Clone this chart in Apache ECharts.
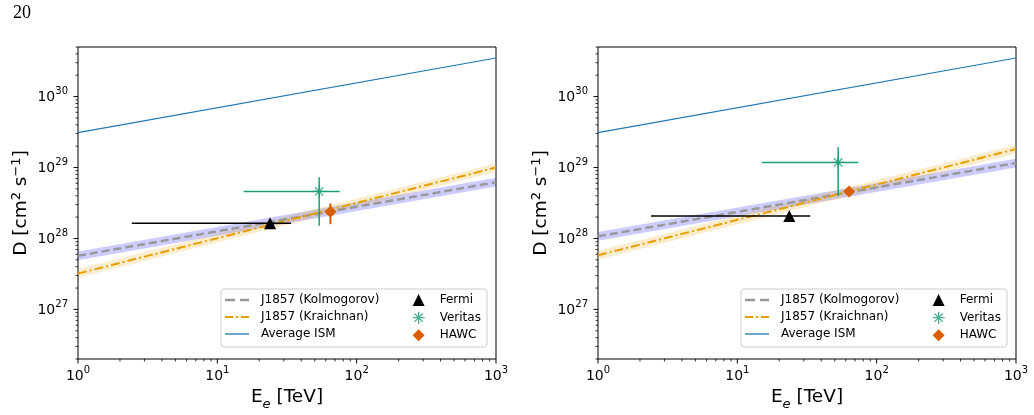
<!DOCTYPE html>
<html><head><meta charset="utf-8">
<script src="https://cdn.jsdelivr.net/npm/echarts@6/dist/echarts.min.js"></script>
<style>html,body{margin:0;padding:0;background:#fff}#c{width:1034px;height:415px}</style>
</head><body><div id="c"></div>
<script>
// ---------- data ----------
const pageNumber = '20';
const xTickExps = [0, 1, 2, 3];
const yTickExps = [27, 28, 29, 30];
const xRange = [1, 1000];
const yRange = [2e26, 5e30];
const lineNames = ['J1857 (Kolmogorov)', 'J1857 (Kraichnan)', 'Average ISM'];
const pointNames = ['Fermi', 'Veritas', 'HAWC'];

const energyEnds = [1, 1000];
// left panel
const ismL = [3.1e29, 3.5e30];
const kolL = [5.7e27, 6.2e28];
const kolLoL = [4.95e27, 5.4e28];
const kolHiL = [6.55e27, 7.15e28];
const kraL = [3.2e27, 1.0e29];
const kraLoL = [2.8e27, 8.7e28];
const kraHiL = [3.7e27, 1.15e29];
const ptXL = [23.9, 53.8, 64.8];
const ptYL = [1.64e28, 4.6e28, 2.38e28];
const xErrLoL = [2.43, 15.4, null];
const xErrHiL = [33.8, 75.6, null];
const yErrLoL = [null, 1.51e28, 1.59e28];
const yErrHiL = [null, 7.27e28, 3.12e28];
// right panel
const ismR = [3.1e29, 3.5e30];
const kolR = [1.07e28, 1.16e29];
const kolLoR = [9.3e27, 1.0e29];
const kolHiR = [1.23e28, 1.33e29];
const kraR = [5.8e27, 1.82e29];
const kraLoR = [5.0e27, 1.58e29];
const kraHiR = [6.7e27, 2.1e29];
const ptXR = [23.6, 52.9, 63.4];
const ptYR = [2.08e28, 1.18e29, 4.6e28];
const xErrLoR = [2.4, 15.0, null];
const xErrHiR = [33.4, 73.9, null];
const yErrLoR = [null, 4.0e28, null];
const yErrHiR = [null, 1.93e29, null];

// ---------- style ----------
const FONT = 'DejaVu Sans';
const COL = {
  ism: '#1f77b4', kol: '#999999', kra: '#e69f00',
  kolBand: 'rgba(0,0,255,0.2)', kraBand: 'rgba(230,159,0,0.2)',
  fermi: '#000000', veritas: '#1b9e77', hawc: '#d95f02'
};
const ptColors = [COL.fermi, COL.veritas, COL.hawc];
const ASTER = 'path://M5,0L5,10M0,5L10,5M1.5,1.5L8.5,8.5M1.5,8.5L8.5,1.5';
const ptSymbols = ['triangle', ASTER, 'diamond'];
const ptSizes = [12, 12, 12];
const lineIcons = [
  'path://M0,0h10v2.5h-10zM15,0h9v2.5h-9z',
  'path://M0,0h8v2h-8zM11,0h2v2h-2zM16,0h8v2h-8z',
  'path://M0,0h24v1.3h-24z'
];

const panels = [
  {ism: ismL, kol: kolL, kolLo: kolLoL, kolHi: kolHiL, kra: kraL, kraLo: kraLoL, kraHi: kraHiL,
   px: ptXL, py: ptYL, xlo: xErrLoL, xhi: xErrHiL, ylo: yErrLoL, yhi: yErrHiL},
  {ism: ismR, kol: kolR, kolLo: kolLoR, kolHi: kolHiR, kra: kraR, kraLo: kraLoR, kraHi: kraHiR,
   px: ptXR, py: ptYR, xlo: xErrLoR, xhi: xErrHiR, ylo: yErrLoR, yhi: yErrHiR}
];
const gridLefts = [78, 598];
const GRID_TOP = 47, GRID_W = 418, GRID_H = 312;

function expOf(v) {
  const l = Math.log10(v), e = Math.round(l);
  return Math.abs(l - e) < 1e-6 ? e : null;
}
const tickRich = {
  b: {fontSize: 14, fontFamily: FONT, color: '#000', verticalAlign: 'bottom', lineHeight: 15},
  s: {fontSize: 10, fontFamily: FONT, color: '#000', verticalAlign: 'bottom', lineHeight: 10, padding: [0, 0, 8, 0]}
};
function xFmt(v) { const e = expOf(v); return (e === null || xTickExps.indexOf(e) < 0) ? '' : '{b|10}{s|' + e + '}'; }
function yFmt(v) { const e = expOf(v); return (e === null || yTickExps.indexOf(e) < 0) ? '' : '{b|10}{s|' + e + '}'; }

// tick marks (major + minor) drawn through the axes
const tickData = [];
for (let e = 0; e < 3; e++) for (let m = 1; m <= 9; m++) tickData.push([m * Math.pow(10, e), yRange[0], 0, m === 1 ? 1 : 0]);
tickData.push([1000, yRange[0], 0, 1]);
for (let e = 26; e <= 30; e++) for (let m = 1; m <= 9; m++) {
  const v = m * Math.pow(10, e);
  if (v >= yRange[0] * 0.999 && v <= yRange[1] * 1.001) tickData.push([xRange[0], v, 1, m === 1 ? 1 : 0]);
}
function tickRender(params, api) {
  const kind = api.value(2), major = api.value(3);
  const p = api.coord([api.value(0), api.value(1)]);
  const len = major ? 4.5 : 2.5;
  const shape = kind === 0 ? {x1: p[0], y1: p[1], x2: p[0], y2: p[1] + len}
                           : {x1: p[0], y1: p[1], x2: p[0] - len, y2: p[1]};
  return {type: 'line', shape: shape, style: {stroke: '#000', lineWidth: major ? 1 : 0.8}};
}

const xAxes = [], yAxes = [], grids = [], series = [], legends = [], graphics = [];
panels.forEach((P, i) => {
  grids.push({left: gridLefts[i], top: GRID_TOP, width: GRID_W, height: GRID_H, show: true,
    borderColor: '#000', borderWidth: 1, backgroundColor: 'transparent', outerBoundsMode: 'none', containLabel: false});
  xAxes.push({type: 'log', logBase: 10, gridIndex: i, min: xRange[0], max: xRange[1],
    axisLine: {show: false}, axisTick: {show: false}, splitLine: {show: false}, minorTick: {show: false},
    axisLabel: {formatter: xFmt, rich: tickRich, margin: 9, showMinLabel: true, showMaxLabel: true, hideOverlap: false},
    name: '{n|E}{sub|e}{n| [TeV]}', nameLocation: 'middle', nameGap: 29,
    nameTextStyle: {rich: {
      n: {fontSize: 18.5, fontFamily: FONT, color: '#000', verticalAlign: 'bottom', lineHeight: 19, padding: [0, 0, 4, 0]},
      sub: {fontSize: 13, fontStyle: 'italic', fontFamily: FONT, color: '#000', verticalAlign: 'bottom', lineHeight: 14}}}
  });
  yAxes.push({type: 'log', logBase: 10, gridIndex: i, min: yRange[0], max: yRange[1],
    axisLine: {show: false}, axisTick: {show: false}, splitLine: {show: false}, minorTick: {show: false},
    axisLabel: {formatter: yFmt, rich: tickRich, margin: 10, hideOverlap: false},
    name: '{n|D [cm}{s|2}{n| s}{s|\u22121}{n|]}', nameLocation: 'middle', nameGap: 47, nameRotate: 90,
    nameTextStyle: {rich: {
      n: {fontSize: 18.5, fontFamily: FONT, color: '#000', verticalAlign: 'bottom', lineHeight: 19},
      s: {fontSize: 13, fontFamily: FONT, color: '#000', verticalAlign: 'bottom', lineHeight: 13, padding: [0, 0, 8, 0]}}}
  });

  // uncertainty bands
  [[P.kolLo, P.kolHi, COL.kolBand], [P.kraLo, P.kraHi, COL.kraBand]].forEach(b => {
    const lo = b[0], hi = b[1], fill = b[2];
    series.push({type: 'custom', xAxisIndex: i, yAxisIndex: i, z: 1, silent: true, clip: false,
      data: [[energyEnds[0], lo[0]]],
      renderItem: (params, api) => {
        const pts = [];
        for (let k = 0; k < energyEnds.length; k++) pts.push(api.coord([energyEnds[k], lo[k]]));
        for (let k = energyEnds.length - 1; k >= 0; k--) pts.push(api.coord([energyEnds[k], hi[k]]));
        return {type: 'polygon', shape: {points: pts}, style: {fill: fill}};
      }});
  });

  const lineDefs = [
    [lineNames[0], P.kol, {color: COL.kol, width: 2.5, type: [8, 4]}],
    [lineNames[1], P.kra, {color: COL.kra, width: 2, type: [9, 3, 2, 3]}],
    [lineNames[2], P.ism, {color: COL.ism, width: 1.2, type: 'solid'}]
  ];
  lineDefs.forEach(d => {
    series.push({type: 'line', name: d[0], xAxisIndex: i, yAxisIndex: i, z: 3, symbol: 'none',
      silent: true, animation: false, lineStyle: d[2], itemStyle: {color: d[2].color},
      data: energyEnds.map((x, k) => [x, d[1][k]])});
  });

  // error bars
  pointNames.forEach((nm, k) => {
    series.push({type: 'custom', xAxisIndex: i, yAxisIndex: i, z: 4, silent: true, clip: false,
      data: [[P.px[k], P.py[k]]],
      renderItem: (params, api) => {
        const children = [];
        const w = k === 2 ? 2 : 1.5;
        if (P.xlo[k] !== null) {
          const a = api.coord([P.xlo[k], P.py[k]]), b = api.coord([P.xhi[k], P.py[k]]);
          children.push({type: 'line', shape: {x1: a[0], y1: a[1], x2: b[0], y2: b[1]}, style: {stroke: ptColors[k], lineWidth: w}});
        }
        if (P.ylo[k] !== null) {
          const a = api.coord([P.px[k], P.ylo[k]]), b = api.coord([P.px[k], P.yhi[k]]);
          children.push({type: 'line', shape: {x1: a[0], y1: a[1], x2: b[0], y2: b[1]}, style: {stroke: ptColors[k], lineWidth: w}});
        }
        return {type: 'group', children: children};
      }});
  });
  // markers
  pointNames.forEach((nm, k) => {
    const isAst = k === 1;
    series.push({type: 'scatter', name: nm, xAxisIndex: i, yAxisIndex: i, z: 5, silent: true,
      symbol: ptSymbols[k], symbolSize: ptSizes[k], symbolKeepAspect: true,
      itemStyle: isAst ? {color: 'rgba(0,0,0,0)', borderColor: ptColors[k], borderWidth: 1.3}
                       : {color: ptColors[k], opacity: 1},
      data: [[P.px[k], P.py[k]]]});
  });
  // ticks
  series.push({type: 'custom', xAxisIndex: i, yAxisIndex: i, z: 6, silent: true, clip: false,
    data: tickData, renderItem: tickRender});

  // legend frame + legends
  const off = i === 0 ? 0 : 520;
  graphics.push({type: 'rect', z: 3, shape: {x: 221 + off, y: 289, width: 266, height: 58, r: 3},
    style: {fill: 'rgba(255,255,255,0.8)', stroke: '#cccccc', lineWidth: 1}});
  legends.push({orient: 'vertical', left: 225 + off, top: 294, padding: 0, itemGap: 5,
    itemWidth: 24, itemHeight: 12, selectedMode: false, symbolKeepAspect: true,
    data: lineNames.map((nm, k) => ({name: nm, icon: lineIcons[k],
      itemStyle: {color: [COL.kol, COL.kra, COL.ism][k], borderWidth: 0}})),
    textStyle: {fontSize: 12, lineHeight: 12, fontFamily: FONT, color: '#000', padding: [0, 0, 0, 7]}});
  legends.push({orient: 'vertical', left: 412 + off, top: 294, padding: 0, itemGap: 5,
    itemWidth: 12, itemHeight: 12, selectedMode: false,
    data: [
      {name: pointNames[0], itemStyle: {color: COL.fermi}},
      {name: pointNames[1], icon: ASTER, itemStyle: {color: 'rgba(0,0,0,0)', borderColor: COL.veritas, borderWidth: 1.3}},
      {name: pointNames[2], itemStyle: {color: COL.hawc}}
    ],
    textStyle: {fontSize: 12, lineHeight: 12, fontFamily: FONT, color: '#000', padding: [0, 0, 0, 10]}});
});

graphics.push({type: 'text', left: 13, top: 4, z: 10,
  style: {text: pageNumber, fontSize: 18, fontFamily: 'Liberation Serif', fill: '#000'}});

const chart = echarts.init(document.getElementById('c'), null, {renderer: 'canvas'});
chart.setOption({
  animation: false,
  backgroundColor: '#fff',
  grid: grids, xAxis: xAxes, yAxis: yAxes, series: series, legend: legends, graphic: graphics
});
</script></body></html>
